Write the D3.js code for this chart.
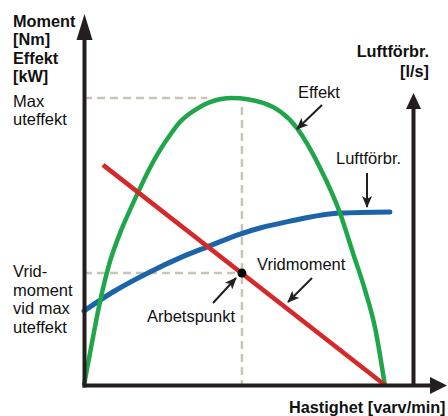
<!DOCTYPE html>
<html>
<head>
<meta charset="utf-8">
<script src="https://cdn.jsdelivr.net/npm/d3@7"></script>
<style>
  body { margin: 0; background: #fff; }
  text { font-family: "Liberation Sans", Arial, sans-serif; fill: #111; }
</style>
</head>
<body>
<svg width="448" height="416"></svg>
<script>
// speed in % of max speed, values in % of max output
let effekt = [[0, 0], [2.7, 15], [5.3, 28.9], [8.6, 42.9], [12, 53], [15.3, 61], [18, 67.2],
    [21.9, 75.6], [25.3, 81.9], [28.6, 87.1], [31.9, 91.6], [36.9, 95.8], [41.9, 98.6], [49.2, 100],
    [59.5, 98.3], [70.8, 89.5], [78.5, 75.6], [85.1, 59.9], [89.4, 46], [93.4, 33.1], [96.7, 20.2], [100, 0]];
let luftforbr = [[0, 25.8], [9.6, 32.4], [21.9, 39.4], [31.9, 44.3], [40.9, 48.1], [51.9, 52.6],
    [58.5, 54.7], [68.5, 57.1], [85.1, 59.9], [101.7, 60.3]];
let vridmoment = [[6.3, 76.7], [100, 0]];
let arbetspunkt = [52.5, 39];
let maxEffekt = 100;

let leftTitle = ["Moment", "[Nm]", "Effekt", "[kW]"];
let rightTitle = ["Luftförbr.", "[l/s]"];
let maxLabel = ["Max", "uteffekt"];
let vridLabel = ["Vrid-", "moment", "vid max", "uteffekt"];
let xTitle = "Hastighet [varv/min]";

let svg = d3.select("svg");

let x = d3.scaleLinear().domain([0, 120]).range([84, 445]),
    y = d3.scaleLinear().domain([0, 100]).range([385, 98]);

let ink = "#231f20";

// dashed guide lines
let guides = svg.append("g")
    .attr("stroke", "#c8c4b8")
    .attr("stroke-width", 2.5)
    .attr("stroke-dasharray", "8,5")
    .attr("fill", "none");

guides.append("line")
    .attr("x1", x(0)).attr("x2", x(41))
    .attr("y1", y(maxEffekt)).attr("y2", y(maxEffekt));
guides.append("line")
    .attr("x1", x(0)).attr("x2", x(arbetspunkt[0]))
    .attr("y1", y(arbetspunkt[1])).attr("y2", y(arbetspunkt[1]));
guides.append("line")
    .attr("x1", x(arbetspunkt[0])).attr("x2", x(arbetspunkt[0]))
    .attr("y1", y(maxEffekt) + 9).attr("y2", y(0));

// curves
let line = d3.line()
    .x(function (d) { return x(d[0]); })
    .y(function (d) { return y(d[1]); })
    .curve(d3.curveMonotoneX);

svg.append("path")
    .datum(luftforbr)
    .attr("d", line)
    .attr("fill", "none")
    .attr("stroke", "#1c64a8")
    .attr("stroke-width", 5)
    .attr("stroke-linecap", "round");

svg.append("path")
    .datum(effekt)
    .attr("d", line)
    .attr("fill", "none")
    .attr("stroke", "#1fa64b")
    .attr("stroke-width", 4.5);

svg.append("path")
    .datum(vridmoment)
    .attr("d", d3.line().x(function (d) { return x(d[0]); }).y(function (d) { return y(d[1]); }))
    .attr("fill", "none")
    .attr("stroke", "#d5282b")
    .attr("stroke-width", 4.5);

svg.append("circle")
    .attr("cx", x(arbetspunkt[0]))
    .attr("cy", y(arbetspunkt[1]))
    .attr("r", 4.5)
    .attr("fill", "#000");

// axes, no ticks
let xAxisScale = d3.scaleLinear().domain([x.invert(82), x.invert(432)]).range([82, 432]);
let yAxisScale = d3.scaleLinear().domain([y.invert(387), y.invert(37)]).range([387, 37]);
let yAirScale = d3.scaleLinear().domain([y.invert(385), y.invert(106)]).range([385, 106]);

let styleAxis = function (g) {
    g.select(".domain").attr("stroke", ink).attr("stroke-width", 4);
};

svg.append("g")
    .attr("class", "axis axis--x")
    .attr("transform", "translate(0," + y(0) + ")")
    .call(d3.axisBottom(xAxisScale).tickValues([]).tickSizeOuter(0))
    .call(styleAxis);

svg.append("g")
    .attr("class", "axis axis--y")
    .attr("transform", "translate(" + x(0) + ",0)")
    .call(d3.axisLeft(yAxisScale).tickValues([]).tickSizeOuter(0))
    .call(styleAxis);

svg.append("g")
    .attr("class", "axis axis--y2")
    .attr("transform", "translate(413,0)")
    .call(d3.axisRight(yAirScale).tickValues([]).tickSizeOuter(0))
    .call(styleAxis);

let heads = [
    [[84.5, 14], [76.5, 40], [92.5, 40]],
    [[413.5, 93], [406, 109], [421, 109]],
    [[447, 385.5], [430, 377], [430, 394]]
];
svg.selectAll(".head")
    .data(heads)
    .enter().append("path")
    .attr("class", "head")
    .attr("d", function (d) { return "M" + d.join("L") + "Z"; })
    .attr("fill", ink);

// pointer arrows
svg.append("defs").append("marker")
    .attr("id", "tip")
    .attr("viewBox", "0 0 12 10")
    .attr("refX", 11).attr("refY", 5)
    .attr("markerWidth", 12).attr("markerHeight", 10)
    .attr("markerUnits", "userSpaceOnUse")
    .attr("orient", "auto")
    .append("path")
    .attr("d", "M0,0L12,5L0,10L3,5Z")
    .attr("fill", ink);

let pointers = [
    [322, 105, 297, 129],
    [367, 173, 367, 207],
    [312, 278, 288, 302],
    [213, 303, 236, 278]
];
svg.selectAll(".pointer")
    .data(pointers)
    .enter().append("line")
    .attr("class", "pointer")
    .attr("x1", function (d) { return d[0]; })
    .attr("y1", function (d) { return d[1]; })
    .attr("x2", function (d) { return d[2]; })
    .attr("y2", function (d) { return d[3]; })
    .attr("stroke", ink)
    .attr("stroke-width", 2)
    .attr("marker-end", "url(#tip)");

// texts
let addLines = function (lines, x0, y0, step, anchor, weight) {
    svg.append("text")
        .attr("text-anchor", anchor)
        .attr("font-weight", weight)
        .attr("font-size", weight == "bold" ? 16.3 : 16.5)
        .selectAll("tspan")
        .data(lines)
        .enter().append("tspan")
        .attr("x", x0)
        .attr("y", function (d, i) { return y0 + i * step; })
        .text(function (d) { return d; });
};

addLines(leftTitle, 13, 27, 18.3, "start", "bold");
addLines(maxLabel, 13, 107, 18.3, "start", "normal");
addLines(vridLabel, 13, 277, 18.7, "start", "normal");
addLines(rightTitle, 429, 57, 20, "end", "bold");
addLines([xTitle], 289, 413, 0, "start", "bold");
addLines(["Effekt"], 298, 98, 0, "start", "normal");
addLines(["Luftförbr."], 336, 164, 0, "start", "normal");
addLines(["Vridmoment"], 257, 270, 0, "start", "normal");
addLines(["Arbetspunkt"], 147, 322, 0, "start", "normal");
</script>
</body>
</html>
